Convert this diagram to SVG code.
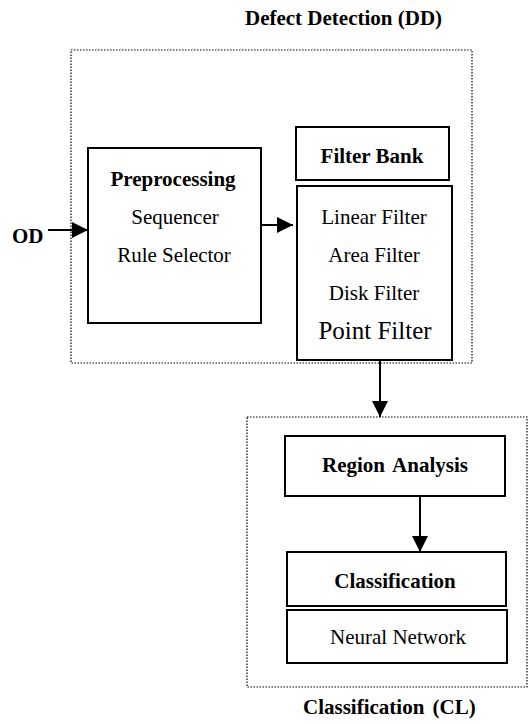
<svg xmlns="http://www.w3.org/2000/svg" width="530" height="724" viewBox="0 0 530 724">
<style>
text{font-family:"Liberation Serif","Times New Roman",serif;fill:#000;font-size:21px}
.b{font-weight:bold}
.m{text-anchor:middle}
.big{font-size:25px}
.box{fill:#fff;stroke:#000;stroke-width:2}
.dot{fill:none;stroke:#000;stroke-width:1.2;stroke-dasharray:1.5 1.5}
.ln{stroke:#000;stroke-width:2;fill:none}
</style>
<defs>
<marker id="ah" viewBox="0 0 16 16" refX="16" refY="8" markerWidth="16" markerHeight="16" markerUnits="userSpaceOnUse" orient="auto">
<path d="M0,0 L16,8 L0,16 Z" fill="#000"/>
</marker>
</defs>
<rect width="530" height="724" fill="#fff"/>
<g id="dd-group">
<rect class="dot" x="71" y="50" width="401" height="313"/>
<text class="b" x="245" y="25">Defect Detection (DD)</text>
</g>
<g id="cl-group">
<rect class="dot" x="247" y="417" width="280" height="270"/>
<text class="b" x="303" y="714" word-spacing="3">Classification (CL)</text>
</g>
<g id="od">
<text class="b" x="12" y="243">OD</text>
</g>
<g id="preprocessing">
<rect class="box" x="88" y="148" width="173" height="175"/>
<text class="b m" x="173" y="186">Preprocessing</text>
<text class="m" x="175" y="224">Sequencer</text>
<text class="m" x="174" y="262">Rule Selector</text>
</g>
<g id="filter-bank">
<rect class="box" x="296" y="127" width="153" height="53"/>
<text class="b m" x="372" y="163">Filter Bank</text>
</g>
<g id="filters">
<rect class="box" x="297" y="186" width="155" height="174"/>
<text class="m" x="374" y="224">Linear Filter</text>
<text class="m" x="374" y="262">Area Filter</text>
<text class="m" x="374" y="300">Disk Filter</text>
<text class="m big" x="375" y="339">Point Filter</text>
</g>
<g id="region-analysis">
<rect class="box" x="285" y="436" width="220" height="60"/>
<text class="b m" x="395" y="472" word-spacing="3">Region Analysis</text>
</g>
<g id="classification">
<rect class="box" x="287" y="552" width="219" height="54"/>
<text class="b m" x="395" y="588">Classification</text>
</g>
<g id="neural-network">
<rect class="box" x="287" y="610" width="220" height="53"/>
<text class="m" x="398" y="644">Neural Network</text>
</g>
<g id="connectors">
<line class="ln" x1="48" y1="230" x2="88" y2="230" marker-end="url(#ah)"/>
<line class="ln" x1="261" y1="225" x2="293" y2="225" marker-end="url(#ah)"/>
<line class="ln" x1="380" y1="360" x2="380" y2="417" marker-end="url(#ah)"/>
<line class="ln" x1="420" y1="496" x2="420" y2="552" marker-end="url(#ah)"/>
</g>
</svg>
